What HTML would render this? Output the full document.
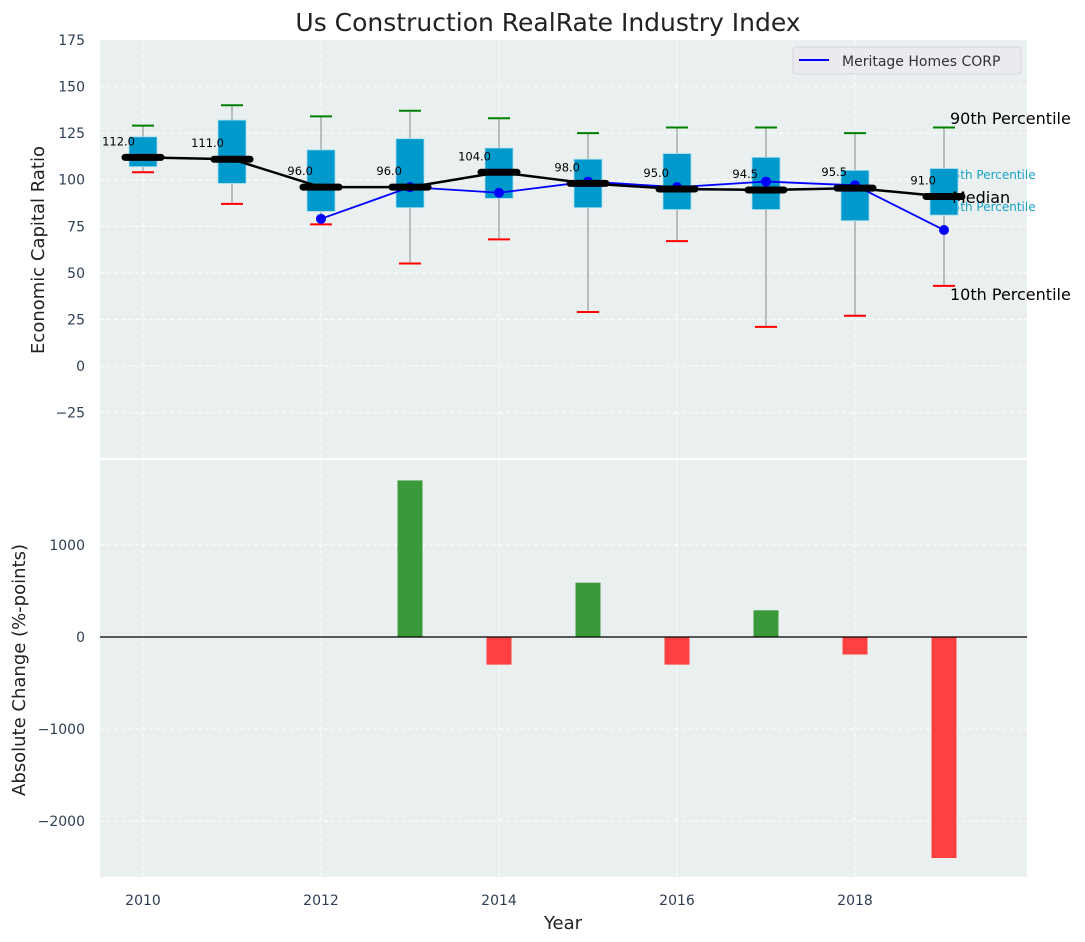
<!DOCTYPE html>
<html><head><meta charset="utf-8"><style>
body{margin:0;background:#fff;width:1085px;height:942px;overflow:hidden}
svg{display:block;font-family:"DejaVu Sans","Liberation Sans",sans-serif}
</style></head><body>
<svg id="c" width="1085" height="942"></svg>
<script>
const years=[2010,2011,2012,2013,2014,2015,2016,2017,2018,2019];
const p10=[104,87,76,55,68,29,67,21,27,43];
const p25=[107,98,83,85,90,85,84,84,78,81];
const p75=[123,132,116,122,117,111,114,112,105,106];
const p90=[129,140,134,137,133,125,128,128,125,128];
const medians=[112,111,96,96,104,98,95,94.5,95.5,91];
const company=[null,null,79,96,93,99,96,99,97,73];
const changes=[0,0,0,1700,-300,590,-300,290,-190,-2400];
const yTicksTop=[175,150,125,100,75,50,25,0,-25];
const yTicksBot=[1000,0,-1000,-2000];
const xTicks=[2010,2012,2014,2016,2018];

const NS='http://www.w3.org/2000/svg';
const svg=document.getElementById('c');
function el(t,a,p){const e=document.createElementNS(NS,t);for(const k in a)e.setAttribute(k,a[k]);(p||svg).appendChild(e);return e;}
const X0=100,X1=1027;
const x=v=>143+(v-2010)*89;
const yT=v=>366-v*1.8629;
const yB=v=>637-v*0.0921;

let r=el('rect',{x:X0,y:40,width:X1-X0,height:418,fill:'#eaeff0'});

r=el('rect',{x:X0,y:460,width:X1-X0,height:417,fill:'#eaeff0'});


xTicks.forEach(t=>{
 el('line',{x1:x(t),x2:x(t),y1:40,y2:458,stroke:'#fff','stroke-dasharray':'4,3','stroke-width':1});
 el('line',{x1:x(t),x2:x(t),y1:460,y2:877,stroke:'#fff','stroke-dasharray':'4,3','stroke-width':1});
 const tx=el('text',{x:x(t),y:905,'text-anchor':'middle','font-size':14,fill:'#2e3f55'});tx.textContent=t;
 
});
yTicksTop.forEach(t=>{
 if(t!==175)el('line',{x1:X0,x2:X1,y1:yT(t),y2:yT(t),stroke:'#fff','stroke-dasharray':'4,3'});
 const tx=el('text',{x:85,y:yT(t)+5,'text-anchor':'end','font-size':14,fill:'#2e3f55'});tx.textContent=t<0?'−'+(-t):t;
 
});
yTicksBot.forEach(t=>{
 el('line',{x1:X0,x2:X1,y1:yB(t),y2:yB(t),stroke:'#fff','stroke-dasharray':'4,3'});
 const tx=el('text',{x:85,y:yB(t)+5,'text-anchor':'end','font-size':14,fill:'#2e3f55'});tx.textContent=t<0?'−'+(-t):t;
 
});

const annBack=[['75th Percentile',945,179,12,'#1aa3c8'],['25th Percentile',945,211,12,'#1aa3c8']];
annBack.forEach(a=>{const t=el('text',{x:a[1],y:a[2],'font-size':a[3],fill:a[4]});t.textContent=a[0];
 });

years.forEach((yr,i)=>{
 const cx=x(yr);
 el('line',{x1:cx,x2:cx,y1:yT(p90[i]),y2:yT(p10[i]),stroke:'#888','stroke-width':1});
 const b=el('rect',{x:cx-14,y:yT(p75[i]),width:28,height:yT(p25[i])-yT(p75[i]),fill:'#0099cc',stroke:'#a8dcee','stroke-width':0.8});
 
 el('line',{x1:cx-11,x2:cx+11,y1:yT(p90[i]),y2:yT(p90[i]),stroke:'#008000','stroke-width':2});
 el('line',{x1:cx-11,x2:cx+11,y1:yT(p10[i]),y2:yT(p10[i]),stroke:'#ff0000','stroke-width':2});
 const lb=el('text',{x:cx-8,y:yT(medians[i])-12,'text-anchor':'end','font-size':11.5,fill:'#000'});
 lb.textContent=medians[i].toFixed(1);
 
});
let pts=[];years.forEach((yr,i)=>{if(company[i]!==null)pts.push(x(yr)+','+yT(company[i]));});
let pl=el('polyline',{points:pts.join(' '),fill:'none',stroke:'#0000ff','stroke-width':1.8});

years.forEach((yr,i)=>{if(company[i]!==null){const c=el('circle',{cx:x(yr),cy:yT(company[i]),r:5,fill:'#0000ff'});
 }});
pl=el('polyline',{points:years.map((yr,i)=>x(yr)+','+yT(medians[i])).join(' '),fill:'none',stroke:'#000','stroke-width':2.5});

years.forEach((yr,i)=>{const m=el('line',{x1:x(yr)-18,x2:x(yr)+18,y1:yT(medians[i]),y2:yT(medians[i]),stroke:'#000','stroke-width':7,'stroke-linecap':'round'});
 });

const annFront=[['90th Percentile',950,124,16,'#000'],['Median',952,203,16,'#000'],['10th Percentile',950,300,16,'#000']];
annFront.forEach(a=>{const t=el('text',{x:a[1],y:a[2],'font-size':a[3],fill:a[4]});t.textContent=a[0];
 });

years.forEach((yr,i)=>{if(!changes[i])return;const v=changes[i];
 const b=el('rect',{x:x(yr)-12.5,y:Math.min(yB(v),yB(0)),width:25,height:Math.abs(yB(v)-yB(0)),fill:v>0?'#3a9a3a':'#ff4040'});
 });
el('line',{x1:X0,x2:X1,y1:yB(0),y2:yB(0),stroke:'#000','stroke-width':1.2});

const lg=el('g',{});
el('rect',{x:793,y:47,width:228,height:27,rx:3,fill:'#eaeaf0',stroke:'#d5d5dc'},lg);
el('line',{x1:799,x2:829,y1:60,y2:60,stroke:'#0000ff','stroke-width':2},lg);
let t=el('text',{x:842,y:66,'font-size':14,fill:'#333'},lg);t.textContent='Meritage Homes CORP';

t=el('text',{x:548,y:31,'text-anchor':'middle','font-size':25,fill:'#222'});t.textContent='Us Construction RealRate Industry Index';

t=el('text',{x:563,y:929,'text-anchor':'middle','font-size':18,fill:'#222'});t.textContent='Year';

t=el('text',{x:0,y:0,'text-anchor':'middle','font-size':18,fill:'#222',transform:'translate(44,250) rotate(-90)'});t.textContent='Economic Capital Ratio';

t=el('text',{x:0,y:0,'text-anchor':'middle','font-size':18,fill:'#222',transform:'translate(25,670) rotate(-90)'});t.textContent='Absolute Change (%-points)';

</script>
</body></html>
